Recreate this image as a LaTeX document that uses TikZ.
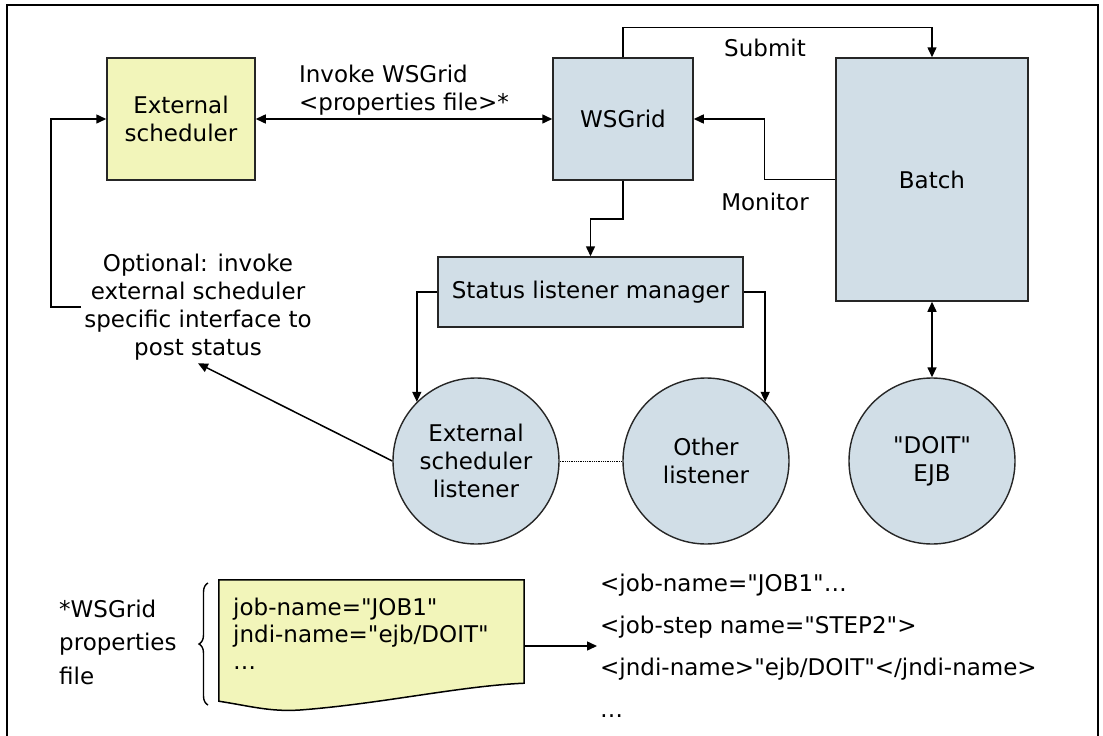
\documentclass[tikz,border=0pt]{standalone}
\usepackage{fontspec}
\setmainfont{DejaVu Sans}[Ligatures=TeXOff]
\usepackage{xcolor}
\usetikzlibrary{arrows.meta,positioning,calc,decorations.pathreplacing}
\definecolor{amareloDoc}{RGB}{242,245,186}
\definecolor{azulBloco}{RGB}{209,222,231}
\tikzset{
    bloco/.style={
        rectangle,
        draw=black!85,
        line width=1.5pt,
        align=center,
        inner sep=0pt
    },
    agendador/.style={bloco, fill=amareloDoc},
    componente/.style={bloco, fill=azulBloco},
    ouvinte/.style={
        circle,
        draw=black!85,
        line width=1.4pt,
        fill=azulBloco,
        align=center,
        minimum size=166pt,
        inner sep=0pt
    },
    fluxo/.style={-{Triangle[length=10pt,width=9pt]}, line width=1.5pt},
    fluxoDuplo/.style={{Triangle[length=10pt,width=9pt]}-{Triangle[length=10pt,width=9pt]}, line width=1.5pt},
    rotulo/.style={align=center, inner sep=3pt}
}

\begin{document}
\begin{tikzpicture}[
        x=1pt, y=-1pt,
        every node/.style={font=\fontsize{23}{28}\selectfont}
    ]
        \useasboundingbox (0,0) rectangle (1103,736);
        \draw[line width=1.5pt] (7,736) -- (7,5) -- (1098,5) -- (1098,736);

        % blocos principais
        \node[agendador, minimum width=148pt, minimum height=122pt] (extsched) at (181,119) {External\\scheduler};
        \node[componente, minimum width=140pt, minimum height=122pt] (wsgrid) at (623,119) {WSGrid};
        \node[componente, minimum width=192pt, minimum height=243pt] (batch) at (932,179.5) {Batch};
        \node[componente, minimum width=305pt, minimum height=70pt] (manager) at (590.5,292) {Status listener manager};

        \node[ouvinte] (extlistener) at (476,461) {External\\scheduler\\listener};
        \node[ouvinte] (otherlistener) at (706,461) {Other\\listener};
        \node[ouvinte] (doit) at (932,461) {"DOIT"\\EJB};

        \node[rotulo] (optional) at (198,307) {Optional: invoke\\external scheduler\\specific interface to\\post status};
        \node[rotulo] (submitlbl) at (765,48) {Submit};
        \node[rotulo] (monitorlbl) at (765,202) {Monitor};

        % arquivo de propriedades
        \node[rotulo, align=left, anchor=west, inner sep=0pt, font=\fontsize{23}{33.5}\selectfont] (propslbl) at (59,642) {*WSGrid\\properties\\file};
        \node[minimum width=305pt, minimum height=121pt, inner sep=0pt] (propsdoc) at (371.5,640.5) {};
        \draw[fill=amareloDoc, line width=1.5pt] (propsdoc.north west) -- (propsdoc.north east) -- ($(propsdoc.south east)+(0,-18)$)
            .. controls (460,686) and (380,704) .. (300,710)
            .. controls (270,712) and (250,706) .. (propsdoc.south west) -- cycle;
        \node[anchor=north west, align=left, inner sep=0pt, font=\fontsize{23}{27}\selectfont] (proptext) at (233,598) {job-name="JOB1"\\jndi-name="ejb/DOIT"\\…};
        \draw[decorate, decoration={brace, amplitude=9pt}, line width=1.4pt] (208,705) -- (208,583);

        \node[anchor=west, align=left, inner sep=0pt, font=\fontsize{23}{42}\selectfont] (xmltext) at (600,646) {<job-name="JOB1"…\\<job-step name="STEP2">\\<jndi-name>"ejb/DOIT"</jndi-name>\\…};

        % conexoes
        \draw[fluxoDuplo] (extsched) -- node[above, align=left, inner sep=3pt] (invokelbl) {Invoke WSGrid\\<properties file>*} (wsgrid);
        \draw[fluxo] (wsgrid.north) -- ++(0,-30) -| (batch.north);
        \draw[fluxo] (batch.west) -- ++(-71,0) |- (wsgrid.east);
        \draw[fluxo] (wsgrid.south) -- ++(0,38) -| (manager.north);
        \draw[fluxo] (manager.west) -| (extlistener.135);
        \draw[fluxo] (manager.east) -| (otherlistener.45);
        \draw[densely dotted, line width=0.8pt] (extlistener) -- (otherlistener);
        \draw[fluxoDuplo] (batch) -- (doit);
        \draw[fluxo] (extlistener.west) -- (optional.south);
        \draw[fluxo] (optional.west) -- ++(-30,0) |- (extsched.west);
        \draw[fluxo, shorten >=3pt] (propsdoc.east |- xmltext.west) -- (xmltext.west);
    \end{tikzpicture}
\end{document}
